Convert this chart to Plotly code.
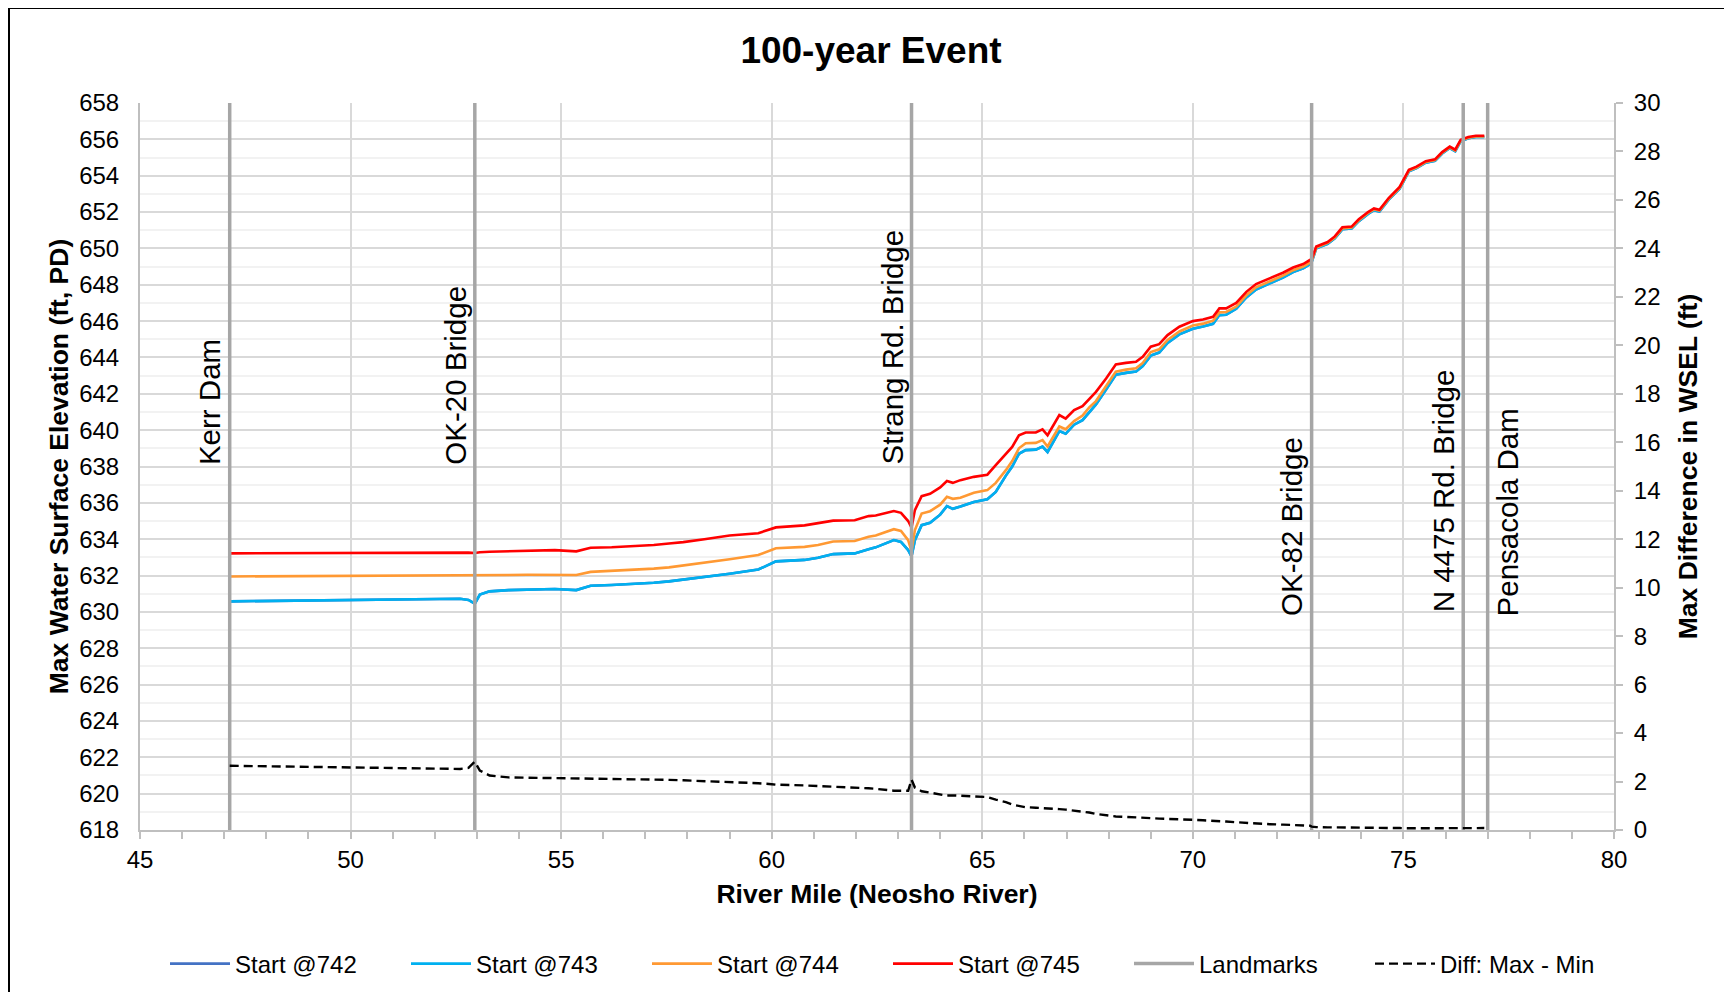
import plotly.graph_objects as go

# ---------------- data ----------------
river_mile = [47.13, 48.0, 49.0, 50.0, 51.0, 52.0, 52.6, 52.8, 52.95, 53.07, 53.3, 53.75, 54.2, 54.85,
              55.36, 55.7, 56.2, 56.7, 57.2, 57.56, 57.9, 58.4, 59.0, 59.68, 60.0, 60.1, 60.78, 61.1,
              61.46, 61.97, 62.3, 62.47, 62.9, 63.07, 63.24, 63.32, 63.4, 63.56, 63.76, 64.0, 64.16,
              64.3, 64.48, 64.8, 65.12, 65.32, 65.56, 65.71, 65.87, 66.03, 66.27, 66.43, 66.55, 66.83,
              66.98, 67.18, 67.38, 67.54, 67.7, 67.94, 68.17, 68.41, 68.65, 68.81, 69.0, 69.2, 69.4,
              69.68, 70.0, 70.24, 70.48, 70.63, 70.79, 71.03, 71.27, 71.5, 71.83, 72.14, 72.38, 72.62,
              72.78, 72.82, 72.93, 73.2, 73.37, 73.55, 73.77, 73.94, 74.16, 74.3, 74.43, 74.65, 74.91,
              75.13, 75.31, 75.53, 75.75, 75.92, 76.1, 76.23, 76.36, 76.54, 76.72, 76.92]

start_745 = [633.22, 633.23, 633.24, 633.25, 633.26, 633.27, 633.27, 633.26, 633.24, 633.28, 633.31, 633.34,
             633.36, 633.40, 633.33, 633.53, 633.56, 633.60, 633.68, 633.76, 633.84, 634.00, 634.20, 634.33,
             634.55, 634.65, 634.76, 634.87, 635.02, 635.04, 635.27, 635.30, 635.55, 635.45, 635.00, 634.64,
             635.60, 636.37, 636.50, 636.85, 637.20, 637.10, 637.25, 637.43, 637.55, 638.07, 638.72, 639.08,
             639.72, 639.87, 639.87, 640.04, 639.72, 640.83, 640.64, 641.10, 641.32, 641.74, 642.11, 642.84,
             643.61, 643.70, 643.76, 644.04, 644.59, 644.73, 645.23, 645.69, 646.00, 646.09, 646.24, 646.70,
             646.70, 647.00, 647.61, 648.04, 648.35, 648.66, 648.95, 649.14, 649.36, 649.40, 650.10, 650.35,
             650.66, 651.16, 651.20, 651.60, 652.00, 652.20, 652.13, 652.77, 653.38, 654.33, 654.50, 654.80,
             654.90, 655.30, 655.60, 655.43, 655.98, 656.13, 656.20, 656.20]

start_744 = [631.95, 631.96, 631.96, 631.97, 631.97, 631.98, 631.98, 631.98, 631.98, 631.99, 632.01, 632.03,
             632.04, 632.05, 632.03, 632.20, 632.25, 632.29, 632.38, 632.45, 632.55, 632.70, 632.90, 633.13,
             633.42, 633.50, 633.58, 633.68, 633.87, 633.90, 634.13, 634.20, 634.55, 634.45, 633.95, 633.35,
             634.50, 635.41, 635.54, 635.90, 636.33, 636.22, 636.28, 636.55, 636.70, 637.10, 637.80, 638.30,
             639.00, 639.28, 639.30, 639.45, 639.10, 640.20, 640.05, 640.50, 640.80, 641.25, 641.60, 642.40,
             643.22, 643.33, 643.40, 643.70, 644.30, 644.45, 644.96, 645.43, 645.76, 645.86, 646.02, 646.48,
             646.50, 646.80, 647.42, 647.86, 648.18, 648.50, 648.80, 649.00, 649.22, 649.30, 650.05, 650.30,
             650.60, 651.10, 651.15, 651.55, 651.95, 652.15, 652.08, 652.72, 653.33, 654.28, 654.45, 654.76,
             654.86, 655.26, 655.56, 655.39, 655.94, 656.09, 656.16, 656.16]

start_743 = [630.58, 630.60, 630.62, 630.65, 630.68, 630.71, 630.72, 630.66, 630.45, 630.95, 631.13, 631.20,
             631.24, 631.26, 631.20, 631.44, 631.48, 631.52, 631.60, 631.68, 631.78, 631.90, 632.10, 632.33,
             632.68, 632.78, 632.86, 632.98, 633.18, 633.22, 633.45, 633.55, 633.95, 633.85, 633.40, 633.06,
             633.95, 634.77, 634.90, 635.35, 635.82, 635.67, 635.80, 636.05, 636.20, 636.60, 637.50, 638.00,
             638.70, 638.90, 638.93, 639.10, 638.80, 639.95, 639.80, 640.30, 640.55, 641.00, 641.42, 642.24,
             643.05, 643.15, 643.22, 643.53, 644.10, 644.27, 644.80, 645.27, 645.58, 645.70, 645.85, 646.33,
             646.35, 646.68, 647.30, 647.74, 648.07, 648.40, 648.70, 648.90, 649.12, 649.25, 650.00, 650.25,
             650.55, 651.05, 651.10, 651.50, 651.90, 652.10, 652.03, 652.68, 653.29, 654.24, 654.42, 654.72,
             654.82, 655.22, 655.52, 655.35, 655.90, 656.06, 656.13, 656.13]

start_742 = [630.58, 630.60, 630.62, 630.65, 630.68, 630.71, 630.72, 630.66, 630.45, 630.95, 631.13, 631.20,
             631.24, 631.26, 631.20, 631.44, 631.48, 631.52, 631.60, 631.68, 631.78, 631.90, 632.10, 632.33,
             632.68, 632.78, 632.86, 632.98, 633.18, 633.22, 633.45, 633.55, 633.95, 633.85, 633.40, 633.06,
             633.95, 634.77, 634.90, 635.35, 635.82, 635.67, 635.80, 636.05, 636.20, 636.60, 637.50, 638.00,
             638.70, 638.90, 638.93, 639.10, 638.80, 639.95, 639.80, 640.30, 640.55, 641.00, 641.42, 642.24,
             643.05, 643.15, 643.22, 643.53, 644.10, 644.27, 644.80, 645.27, 645.58, 645.70, 645.85, 646.33,
             646.35, 646.68, 647.30, 647.74, 648.07, 648.40, 648.70, 648.90, 649.12, 649.25, 650.00, 650.25,
             650.55, 651.05, 651.10, 651.50, 651.90, 652.10, 652.03, 652.68, 653.29, 654.24, 654.42, 654.72,
             654.82, 655.22, 655.52, 655.35, 655.90, 656.06, 656.13, 656.13]

diff_max_min = [2.65, 2.63, 2.60, 2.57, 2.55, 2.53, 2.52, 2.56, 2.82, 2.45, 2.25, 2.17, 2.16, 2.15, 2.14, 2.12,
                2.10, 2.09, 2.08, 2.07, 2.05, 2.02, 1.98, 1.93, 1.89, 1.87, 1.84, 1.82, 1.80, 1.76, 1.72, 1.70,
                1.62, 1.62, 1.62, 2.08, 1.75, 1.60, 1.55, 1.48, 1.42, 1.43, 1.42, 1.39, 1.36, 1.25, 1.15, 1.05,
                0.98, 0.94, 0.92, 0.91, 0.90, 0.86, 0.84, 0.80, 0.76, 0.72, 0.66, 0.60, 0.56, 0.54, 0.53, 0.51,
                0.49, 0.47, 0.45, 0.43, 0.42, 0.40, 0.39, 0.37, 0.35, 0.32, 0.29, 0.26, 0.24, 0.22, 0.21, 0.20,
                0.18, 0.14, 0.12, 0.11, 0.11, 0.10, 0.10, 0.10, 0.09, 0.09, 0.08, 0.08, 0.08, 0.07, 0.07, 0.07,
                0.07, 0.07, 0.07, 0.07, 0.07, 0.07, 0.07, 0.08]

landmark_miles = [47.13, 52.95, 63.32, 72.82, 76.42, 77.0]
landmark_names = ["Kerr Dam", "OK-20 Bridge", "Strang Rd. Bridge", "OK-82 Bridge", "N 4475 Rd. Bridge", "Pensacola Dam"]
landmark_label_elev = [637.98, 637.98, 637.98, 629.65, 629.88, 629.65]
landmark_label_side = ["left", "left", "left", "left", "left", "right"]
elev_range = [618, 658]
diff_range = [0, 30]

# ---------------- figure ----------------
FONT = "Liberation Sans, Arial, sans-serif"
OFF = 8  # browser default page margin
W, H = 1732 - 2 * OFF, 1000 - 2 * OFF
# plot area in page pixels: x 140..1614, y 103..830
ML, MT = 140 - OFF, 103 - OFF
PW, PH = 1474, 727
MR, MB = W - ML - PW, H - MT - PH


def px_x(px):
    return (px - OFF - ML) / PW


def px_y(py):
    return (MT + PH - (py - OFF)) / PH


fig = go.Figure()

series = [("Start @742", start_742, "#4472C4"),
          ("Start @743", start_743, "#00B0F0"),
          ("Start @744", start_744, "#FF9933"),
          ("Start @745", start_745, "#FF0000")]
for name, vals, col in series:
    fig.add_trace(go.Scatter(x=river_mile, y=vals, mode="lines", name=name,
                             line=dict(color=col, width=2.6)))

lm_x, lm_y = [], []
for m in landmark_miles:
    lm_x += [m, m, None]
    lm_y += [elev_range[0], elev_range[1], None]
fig.add_trace(go.Scatter(x=lm_x, y=lm_y, mode="lines", name="Landmarks",
                         line=dict(color="#A6A6A6", width=3.5)))

fig.add_trace(go.Scatter(x=river_mile, y=diff_max_min, mode="lines", name="Diff: Max - Min",
                         yaxis="y2", line=dict(color="#000000", width=2.4, dash="9px,5px")))

for m, name, ev, side in zip(landmark_miles, landmark_names, landmark_label_elev, landmark_label_side):
    fig.add_annotation(x=m, y=ev, xref="x", yref="y", text=name, showarrow=False,
                       textangle=-90, xanchor="right" if side == "left" else "left",
                       yanchor="bottom", xshift=-1 if side == "left" else 1,
                       font=dict(family=FONT, size=29.5, color="#000000"))

# chart-area border (right and bottom edges fall outside the picture, as in the original)
fig.add_shape(type="rect", xref="paper", yref="paper",
              x0=px_x(9), x1=px_x(1780), y0=px_y(1040), y1=px_y(8),
              line=dict(color="#000000", width=2), fillcolor="rgba(0,0,0,0)", layer="below")

fig.update_layout(
    width=W, height=H,
    margin=dict(l=ML, r=MR, t=MT, b=MB, autoexpand=False),
    paper_bgcolor="white", plot_bgcolor="white",
    font=dict(family=FONT, size=24, color="#000000"),
    title=dict(text="<b>100-year Event</b>", x=(871 - OFF) / W, xref="container", xanchor="center",
               y=1 - (50 - OFF) / H, yref="container", yanchor="middle",
               font=dict(family=FONT, size=37, color="#000000")),
    showlegend=True,
    legend=dict(orientation="h", x=px_x(888), xanchor="center", y=px_y(964), yanchor="middle",
                font=dict(family=FONT, size=24, color="#000000"),
                itemwidth=60, entrywidth=166, entrywidthmode="pixels", bgcolor="rgba(0,0,0,0)"),
    xaxis=dict(range=[45, 80], dtick=5, tick0=45, showgrid=True, gridcolor="#D9D9D9", gridwidth=1.5,
               showline=True, linecolor="#BFBFBF", linewidth=2, ticks="outside", ticklen=7,
               tickcolor="#BFBFBF", tickwidth=1.5, zeroline=False,
               minor=dict(dtick=1, ticks="outside", ticklen=7, tickcolor="#BFBFBF", showgrid=False),
               tickfont=dict(family=FONT, size=24),
               title=dict(text="<b>River Mile (Neosho River)</b>", standoff=13,
                          font=dict(family=FONT, size=26.5))),
    yaxis=dict(range=elev_range, dtick=2, showgrid=True, gridcolor="#D9D9D9", gridwidth=1.5,
               showline=True, linecolor="#BFBFBF", linewidth=2, ticks="", zeroline=False,
               ticklabelstandoff=14,
               minor=dict(dtick=1, showgrid=True, gridcolor="#F2F2F2", gridwidth=1.5),
               tickfont=dict(family=FONT, size=24),
               title=dict(text="<b>Max Water Surface Elevation (ft, PD)</b>", standoff=3,
                          font=dict(family=FONT, size=26.5))),
    yaxis2=dict(range=diff_range, dtick=2, overlaying="y", side="right", showgrid=False,
                showline=True, linecolor="#BFBFBF", linewidth=2, ticks="outside", ticklen=7,
                tickcolor="#BFBFBF", tickwidth=1.5, zeroline=False, ticklabelstandoff=6,
                tickfont=dict(family=FONT, size=24),
                title=dict(text="<b>Max Difference in WSEL (ft)</b>", standoff=19,
                           font=dict(family=FONT, size=26.5))),
)

fig.write_html("out.html")
